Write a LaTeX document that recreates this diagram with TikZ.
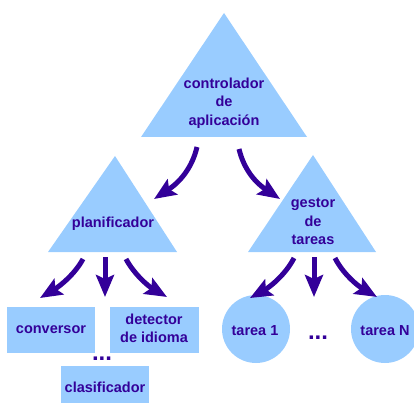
\documentclass[tikz,border=0pt]{standalone}
\usepackage{fontspec}
\setmainfont{Liberation Sans}
\usetikzlibrary{arrows.meta}
\definecolor{lblue}{RGB}{153,204,255}
\definecolor{indig}{RGB}{51,0,153}
\tikzset{
  shapefill/.style={fill=lblue, draw=none},
  lbl/.style={text=indig, font=\bfseries\fontsize{14.5}{18.5}\selectfont, align=center, inner sep=0pt},
  dotlbl/.style={text=indig, font=\bfseries\fontsize{24}{24}\selectfont, inner sep=0pt, anchor=base},
  arr/.style={draw=indig, line width=5pt, -{Stealth[length=22pt,width=18pt,inset=4pt]}},
}
\begin{document}
\begin{tikzpicture}[x=1pt,y=-1pt]
\useasboundingbox (0,0) rectangle (414,403);
% triangles
\fill[shapefill] (224,13) -- (307,137) -- (141,137) -- cycle;
\fill[shapefill] (115,156) -- (177,252) -- (48,252) -- cycle;
\fill[shapefill] (313,155) -- (376,252) -- (248,252) -- cycle;
% boxes
\fill[shapefill] (7,307) rectangle (95,353);
\fill[shapefill] (110,307) rectangle (199,353);
\fill[shapefill] (61,366) rectangle (149,403);
% circles
\fill[shapefill] (256,329) circle (34);
\fill[shapefill] (385,329) circle (34);
% labels
\node[lbl] (ctrl) at (224,103) {controlador\\de\\aplicación};
\node[lbl] (plan) at (113,224) {planificador};
\node[lbl] (gest) at (313,221.5) {gestor\\de\\tareas};
\node[lbl] (conv) at (51,329.5) {conversor};
\node[lbl] (det) at (154,328.5) {detector\\de idioma};
\node[lbl] (clas) at (105,387) {clasificador};
\node[lbl] (t1) at (255,331) {tarea 1};
\node[lbl] (tN) at (385,331) {tarea N};
\node[dotlbl] (d1) at (102,360) {...};
\node[dotlbl] (d2) at (318,339) {...};
% arrow endpoints
\coordinate (a1s) at (197,147); \coordinate (a1e) at (154,199);
\coordinate (a2s) at (239,149); \coordinate (a2e) at (280,199);
\coordinate (b1s) at (83,259); \coordinate (b1e) at (40,298);
\coordinate (b2s) at (105,257); \coordinate (b2e) at (105,297);
\coordinate (b3s) at (126,259); \coordinate (b3e) at (167,297);
\coordinate (c1s) at (294,258); \coordinate (c1e) at (250,298);
\coordinate (c2s) at (314,257); \coordinate (c2e) at (314,297);
\coordinate (c3s) at (335,258); \coordinate (c3e) at (377,297);
% arrows
\draw[arr] (a1s) .. controls (192,168) and (180,182) .. (a1e);
\draw[arr] (a2s) .. controls (244,170) and (256,183) .. (a2e);
\draw[arr] (b1s) .. controls (75,274) and (60,286) .. (b1e);
\draw[arr] (b2s) -- (b2e);
\draw[arr] (b3s) .. controls (134,274) and (148,286) .. (b3e);
\draw[arr] (c1s) .. controls (286,274) and (270,287) .. (c1e);
\draw[arr] (c2s) -- (c2e);
\draw[arr] (c3s) .. controls (343,274) and (358,286) .. (c3e);
\end{tikzpicture}
\end{document}
